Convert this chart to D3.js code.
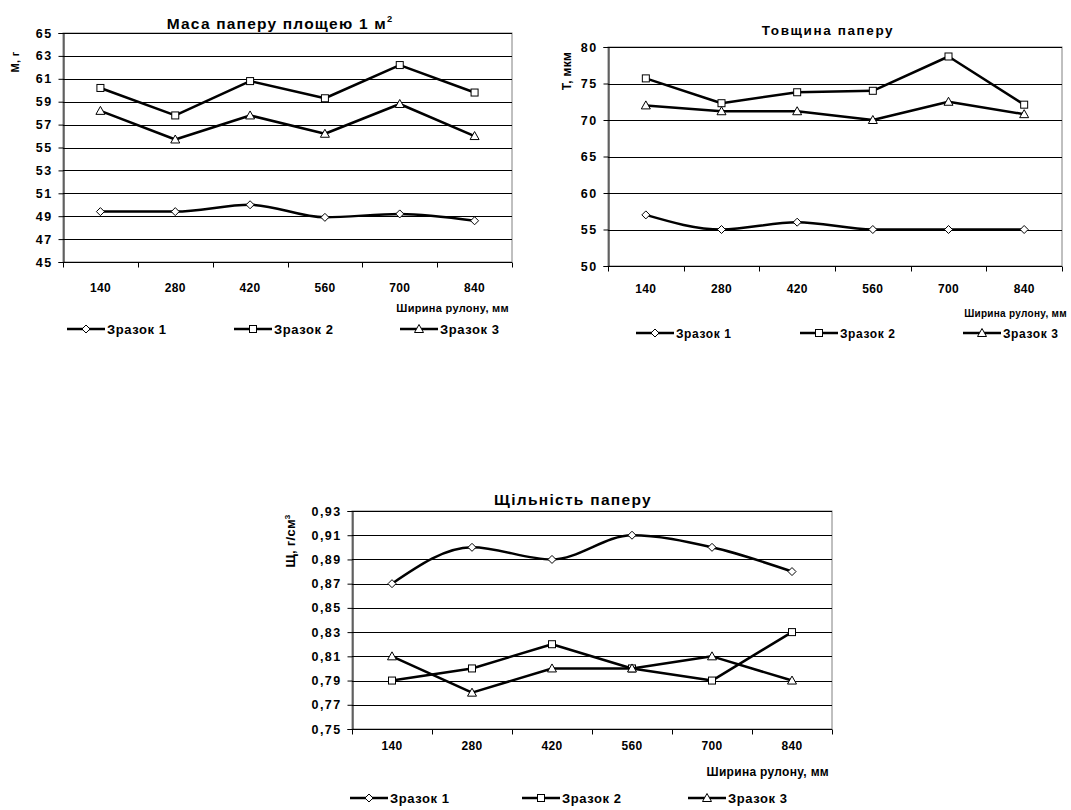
<!DOCTYPE html>
<html>
<head>
<meta charset="utf-8">
<script src="https://cdn.jsdelivr.net/npm/d3@7"></script>
<style>
  body { margin: 0; background: #fff; }
  svg { display: block; font-family: 'Liberation Sans', Arial, sans-serif; font-weight: bold; }
</style>
</head>
<body>
<div id="chart"></div>
<script>
// roll width categories
const widths = ['140', '280', '420', '560', '700', '840'];
const seriesNames = ['Зразок 1', 'Зразок 2', 'Зразок 3'];

// mass of 1 m2, g
const massS1 = [49.4, 49.4, 50.0, 48.9, 49.2, 48.6];
const massS2 = [60.2, 57.8, 60.8, 59.3, 62.2, 59.8];
const massS3 = [58.2, 55.7, 57.8, 56.2, 58.8, 56.0];
const massTicks = [45, 47, 49, 51, 53, 55, 57, 59, 61, 63, 65];

// thickness, um
const thickS1 = [57, 55, 56, 55, 55, 55];
const thickS2 = [75.7, 72.3, 73.8, 74.0, 78.7, 72.1];
const thickS3 = [72.0, 71.2, 71.2, 70.0, 72.5, 70.8];
const thickTicks = [50, 55, 60, 65, 70, 75, 80];

// density, g/cm3
const densS1 = [0.87, 0.90, 0.89, 0.91, 0.90, 0.88];
const densS2 = [0.79, 0.80, 0.82, 0.80, 0.79, 0.83];
const densS3 = [0.81, 0.78, 0.80, 0.80, 0.81, 0.79];
const densTicks = [0.75, 0.77, 0.79, 0.81, 0.83, 0.85, 0.87, 0.89, 0.91, 0.93];

const svg = d3.select('#chart').append('svg')
  .attr('width', 1071)
  .attr('height', 810);

const markers = ['diamond', 'square', 'triangle'];

function drawMarker(g, type, x, y) {
  if (type === 'diamond') {
    g.append('path')
      .attr('d', `M${x},${y - 4}L${x + 4},${y}L${x},${y + 4}L${x - 4},${y}Z`)
      .attr('fill', '#fff').attr('stroke', '#000').attr('stroke-width', 1);
  } else if (type === 'square') {
    g.append('rect')
      .attr('x', x - 3.5).attr('y', y - 3.5)
      .attr('width', 7).attr('height', 7)
      .attr('fill', '#fff').attr('stroke', '#000').attr('stroke-width', 1);
  } else {
    g.append('path')
      .attr('d', `M${x},${y - 4.5}L${x + 4.5},${y + 3.5}L${x - 4.5},${y + 3.5}Z`)
      .attr('fill', '#fff').attr('stroke', '#000').attr('stroke-width', 1);
  }
}

function lineChart(cfg) {
  const g = svg.append('g');

  const x = d3.scaleBand().domain(widths).range([cfg.left, cfg.right]);
  const y = d3.scaleLinear().domain(cfg.domain).range([cfg.bottom, cfg.top]);

  // plot border (grey)
  g.append('rect')
    .attr('x', cfg.left).attr('y', cfg.top)
    .attr('width', cfg.right - cfg.left).attr('height', cfg.bottom - cfg.top)
    .attr('fill', 'none').attr('stroke', '#808080').attr('stroke-width', 1);

  // gridlines
  g.append('g').selectAll('line')
    .data(cfg.ticks.slice(1))
    .join('line')
    .attr('x1', cfg.left).attr('x2', cfg.right)
    .attr('y1', d => Math.round(y(d)) + 0.5).attr('y2', d => Math.round(y(d)) + 0.5)
    .attr('stroke', '#000').attr('stroke-width', 1);

  // y axis
  const yAxis = g.append('g')
    .attr('transform', `translate(${Math.round(cfg.left) + 0.5},0)`)
    .call(d3.axisLeft(y).tickValues(cfg.ticks).tickSize(5).tickPadding(6)
      .tickFormat(cfg.fmt));
  yAxis.select('.domain').attr('stroke', '#000');
  yAxis.selectAll('text')
    .attr('font-size', 12.5).attr('font-family', null).attr('fill', '#000')
    .attr('letter-spacing', 1.4);

  // x axis, ticks between categories
  const xAxis = g.append('g')
    .attr('transform', `translate(0,${Math.round(cfg.bottom) + 0.5})`);
  xAxis.append('line')
    .attr('x1', cfg.left).attr('x2', cfg.right)
    .attr('stroke', '#000');
  xAxis.selectAll('.tk')
    .data(widths.concat(['end']))
    .join('line')
    .attr('class', 'tk')
    .attr('x1', (d, i) => Math.round(i < widths.length ? x(d) : cfg.right) + 0.5)
    .attr('x2', (d, i) => Math.round(i < widths.length ? x(d) : cfg.right) + 0.5)
    .attr('y1', 0).attr('y2', 5)
    .attr('stroke', '#000');
  xAxis.selectAll('.lbl')
    .data(widths)
    .join('text')
    .attr('class', 'lbl')
    .attr('x', d => x(d) + x.bandwidth() / 2)
    .attr('y', cfg.tickDy)
    .attr('text-anchor', 'middle')
    .attr('font-size', 12)
    .attr('letter-spacing', 0.3)
    .text(d => d);

  // series; sample 1 is drawn smoothed
  cfg.series.forEach((vals, si) => {
    const pts = vals.map((v, i) => [x(widths[i]) + x.bandwidth() / 2, y(v)]);
    const line = d3.line().curve(si === 0 ? d3.curveMonotoneX : d3.curveLinear);
    g.append('path')
      .attr('d', line(pts))
      .attr('fill', 'none')
      .attr('stroke', '#000')
      .attr('stroke-width', 2.5)
      .attr('stroke-linejoin', 'round');
    pts.forEach(p => drawMarker(g, markers[si], p[0], p[1]));
  });

  // title
  const title = g.append('text')
    .attr('x', cfg.titleX).attr('y', cfg.titleY)
    .attr('text-anchor', 'middle')
    .attr('font-size', cfg.titleSize)
    .attr('letter-spacing', cfg.titleLs)
    .text(cfg.title);
  if (cfg.titleSup) {
    title.append('tspan').attr('dy', -7).attr('font-size', cfg.titleSize * 0.6).text(cfg.titleSup);
  }

  // y label
  const yl = g.append('text')
    .attr('transform', `translate(${cfg.ylabX},${cfg.ylabY}) rotate(-90)`)
    .attr('text-anchor', 'middle')
    .attr('font-size', cfg.ylabSize)
    .attr('letter-spacing', 0.3)
    .text(cfg.ylab);
  if (cfg.ylabSup) {
    yl.append('tspan').attr('dy', -5).attr('font-size', 8).text(cfg.ylabSup);
  }

  // x title
  g.append('text')
    .attr('x', cfg.xtitleX).attr('y', cfg.xtitleY)
    .attr('text-anchor', 'end')
    .attr('font-size', cfg.xtitleSize)
    .attr('letter-spacing', 0.3)
    .text('Ширина рулону, мм');

  // legend
  seriesNames.forEach((name, i) => {
    const lx = cfg.legendX[i], ly = cfg.legendY;
    g.append('line')
      .attr('x1', lx).attr('x2', lx + 38)
      .attr('y1', ly).attr('y2', ly)
      .attr('stroke', '#000').attr('stroke-width', 2.5);
    drawMarker(g, markers[i], lx + 19, ly);
    g.append('text')
      .attr('x', lx + 40).attr('y', ly + 4.5)
      .attr('font-size', cfg.legendSize)
      .attr('letter-spacing', 0.6)
      .text(name);
  });
}

lineChart({
  left: 63, right: 512, top: 33, bottom: 262,
  domain: [45, 65], ticks: massTicks, fmt: d => d,
  series: [massS1, massS2, massS3],
  tickDy: 29,
  title: 'Маса паперу площею 1 м', titleSup: '2', titleX: 280, titleY: 29, titleSize: 15.5, titleLs: 1.2,
  ylab: 'М, г', ylabX: 19, ylabY: 62, ylabSize: 11,
  xtitleX: 509, xtitleY: 312, xtitleSize: 11,
  legendX: [67, 234, 400], legendY: 329, legendSize: 13
});

lineChart({
  left: 608, right: 1062, top: 47, bottom: 266,
  domain: [50, 80], ticks: thickTicks, fmt: d => d,
  series: [thickS1, thickS2, thickS3],
  tickDy: 26,
  title: 'Товщина паперу', titleX: 828, titleY: 35, titleSize: 13.5, titleLs: 1.6,
  ylab: 'Т, мкм', ylabX: 571, ylabY: 71, ylabSize: 12,
  xtitleX: 1067, xtitleY: 317, xtitleSize: 10,
  legendX: [636, 800, 963], legendY: 333, legendSize: 12
});

lineChart({
  left: 352, right: 832, top: 511, bottom: 729,
  domain: [0.75, 0.93], ticks: densTicks, fmt: d => d.toFixed(2).replace('.', ','),
  series: [densS1, densS2, densS3],
  tickDy: 20,
  title: 'Щільність паперу', titleX: 573, titleY: 505, titleSize: 15.5, titleLs: 1.3,
  ylab: 'Щ, г/см', ylabSup: '3', ylabX: 295, ylabY: 541, ylabSize: 13,
  xtitleX: 829, xtitleY: 776, xtitleSize: 12,
  legendX: [350, 522, 688], legendY: 798, legendSize: 13
});
</script>
</body>
</html>
